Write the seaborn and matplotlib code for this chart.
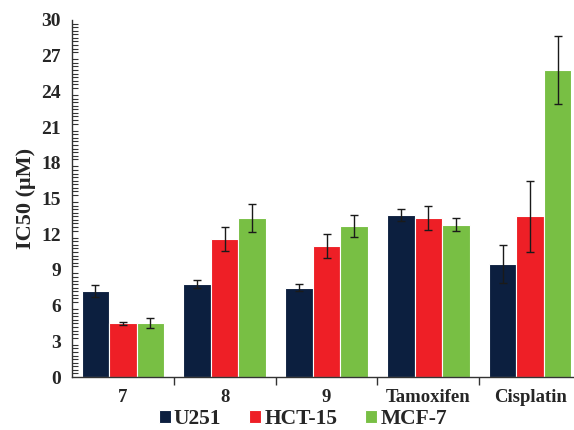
import numpy as np
import pandas as pd
import matplotlib
matplotlib.use("Agg")
import matplotlib.pyplot as plt
from matplotlib.ticker import MultipleLocator, FixedLocator
import seaborn as sns

compounds = ['7', '8', '9', 'Tamoxifen', 'Cisplatin']
cell_lines = ['U251', 'HCT-15', 'MCF-7']
u251 = [7.2, 7.8, 7.5, 13.6, 9.5]
hct15 = [4.5, 11.6, 11.0, 13.35, 13.5]
mcf7 = [4.55, 13.35, 12.7, 12.8, 25.8]
u251_err = [0.5, 0.35, 0.3, 0.5, 1.6]
hct15_err = [0.1, 1.0, 1.0, 1.0, 3.0]
mcf7_err = [0.4, 1.2, 0.9, 0.55, 2.85]

colors = ['#0c1f3f', '#ee1f26', '#78bf44']

def build_frame():
    rows = []
    for line, vals in zip(cell_lines, [u251, hct15, mcf7]):
        for c, v in zip(compounds, vals):
            rows.append({'Compound': c, 'Cell line': line, 'IC50': v})
    return pd.DataFrame(rows)

def main():
    sns.set_style('white')
    plt.rcParams['font.family'] = ['Liberation Serif', 'DejaVu Serif']
    plt.rcParams['font.weight'] = 'bold'

    df = build_frame()
    fig = plt.figure(figsize=(5.74, 4.30), dpi=100)
    ax = fig.add_axes([72 / 574, 1 - 377 / 430, (581 - 72) / 574, (377 - 20) / 430])

    sns.barplot(data=df, x='Compound', y='IC50', hue='Cell line', order=compounds,
                hue_order=cell_lines, palette=colors, errorbar=None, width=0.81,
                edgecolor='white', linewidth=0.8, saturation=1, ax=ax)

    for cont, errs in zip(ax.containers, [u251_err, hct15_err, mcf7_err]):
        xs = [b.get_x() + b.get_width() / 2 for b in cont]
        ys = [b.get_height() for b in cont]
        ax.errorbar(xs, ys, yerr=errs, fmt='none', ecolor='#1a1a1a',
                    elinewidth=1, capsize=3, capthick=1)

    ax.set_xlim(-0.5, 4.5)
    ax.set_ylim(0, 30)
    ax.yaxis.set_major_locator(MultipleLocator(3))
    ax.yaxis.set_minor_locator(MultipleLocator(0.3))
    ax.tick_params(axis='y', which='major', direction='inout', length=10, width=1,
                   color='#333333', labelsize=14, pad=3)
    ax.tick_params(axis='y', which='minor', direction='in', length=4, width=0.8,
                   color='#333333', left=True)

    ax.xaxis.set_major_locator(FixedLocator([0.5, 1.5, 2.5, 3.5]))
    ax.xaxis.set_minor_locator(FixedLocator(range(len(compounds))))
    ax.set_xticklabels([], minor=False)
    ax.set_xticklabels(compounds, minor=True)
    ax.tick_params(axis='x', which='major', direction='out', length=6, width=1,
                   color='#333333', bottom=True)
    ax.tick_params(axis='x', which='minor', length=0, labelsize=13.5, pad=9)

    for lab in ax.get_yticklabels() + ax.get_xticklabels(minor=True):
        lab.set_fontweight('bold')

    ax.set_xlabel('')
    ax.set_ylabel('IC50 (μM)', fontsize=16, fontweight='bold', labelpad=4)

    for s in ['top', 'right']:
        ax.spines[s].set_visible(False)
    for s in ['left', 'bottom']:
        ax.spines[s].set_color('#333333')
        ax.spines[s].set_linewidth(1)

    ax.legend(loc='center', bbox_to_anchor=(303 / 574, 1 - 419 / 430),
              bbox_transform=fig.transFigure, ncol=3, frameon=False,
              prop={'weight': 'bold', 'size': 15.5}, handlelength=0.55,
              handleheight=0.55, handletextpad=0.15, columnspacing=1.3,
              borderpad=0, borderaxespad=0)

    fig.savefig('out.png', dpi=100)

if __name__ == "__main__":
    main()
